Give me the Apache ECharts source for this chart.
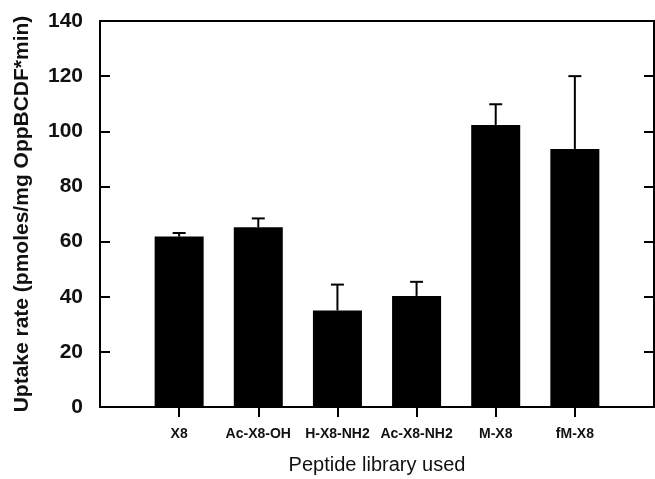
<!DOCTYPE html>
<html>
<head>
<meta charset="utf-8">
<script src="https://cdn.jsdelivr.net/npm/echarts@6/dist/echarts.min.js"></script>
<style>html,body{margin:0;padding:0;background:#fff}#c{width:655px;height:479px}</style>
</head>
<body>
<div id="c"></div>
<script>
var categories = ['X8', 'Ac-X8-OH', 'H-X8-NH2', 'Ac-X8-NH2', 'M-X8', 'fM-X8'];
var uptake = [61.8, 65.2, 35.0, 40.3, 102.3, 93.6];
var errorTop = [63.1, 68.4, 44.4, 45.4, 109.8, 120.0];
var yTicks = [0, 20, 40, 60, 80, 100, 120, 140];

var cats = [''].concat(categories).concat(['']);
var barData = [null].concat(uptake).concat([null]);
var errData = categories.map(function (c, i) { return [i + 1, uptake[i], errorTop[i]]; });

var chart = echarts.init(document.getElementById('c'));
chart.setOption({
  animation: false,
  grid: { left: 100, right: 1, top: 21, bottom: 72, outerBoundsMode: 'none', containLabel: false,
    show: true, borderColor: '#000', borderWidth: 2, backgroundColor: 'transparent' },
  xAxis: {
    type: 'category', data: cats, boundaryGap: false,
    name: 'Peptide library used', nameLocation: 'middle', nameGap: 48,
    nameTextStyle: { fontFamily: 'Liberation Sans', fontSize: 20, color: '#111' },
    axisLine: { lineStyle: { color: '#000', width: 2 } },
    axisTick: { inside: false, length: 10, lineStyle: { color: '#000', width: 2 },
      interval: function (i, v) { return v !== ''; } },
    axisLabel: { margin: 20, fontFamily: 'Liberation Sans', fontWeight: 'bold', fontSize: 14, color: '#111',
      interval: function (i, v) { return v !== ''; } },
    splitLine: { show: false }
  },
  yAxis: [{
    type: 'value', min: 0, max: 140, interval: 20,
    name: 'Uptake rate (pmoles/mg OppBCDF*min)', nameLocation: 'middle', nameGap: 67,
    nameTextStyle: { fontFamily: 'Liberation Sans', fontWeight: 'bold', fontSize: 21, color: '#111' },
    axisLine: { show: true, lineStyle: { color: '#000', width: 2 } },
    axisTick: { show: true, inside: true, length: 10, lineStyle: { color: '#000', width: 2 } },
    axisLabel: { margin: 17, fontFamily: 'Liberation Sans', fontWeight: 'bold', fontSize: 21, color: '#111',
      formatter: function (v) { return yTicks.indexOf(v) >= 0 ? String(v) : ''; } },
    splitLine: { show: false }
  }, {
    type: 'value', min: 0, max: 140, interval: 20, position: 'right',
    axisLine: { show: true, lineStyle: { color: '#000', width: 2 } },
    axisTick: { show: true, inside: true, length: 10, lineStyle: { color: '#000', width: 2 } },
    axisLabel: { show: false },
    splitLine: { show: false }
  }],
  series: [{
    type: 'bar', data: barData, barWidth: 49,
    itemStyle: { color: '#000' }
  }, {
    type: 'custom', data: errData, z: 1,
    renderItem: function (params, api) {
      var x = api.value(0);
      var p0 = api.coord([x, api.value(1)]);
      var p1 = api.coord([x, api.value(2)]);
      var hw = 6.5;
      var st = { stroke: '#000', lineWidth: 2 };
      return { type: 'group', children: [
        { type: 'line', shape: { x1: p0[0], y1: p0[1], x2: p1[0], y2: p1[1] }, style: st },
        { type: 'line', shape: { x1: p1[0] - hw, y1: p1[1], x2: p1[0] + hw, y2: p1[1] }, style: st }
      ] };
    }
  }]
});
</script>
</body>
</html>
